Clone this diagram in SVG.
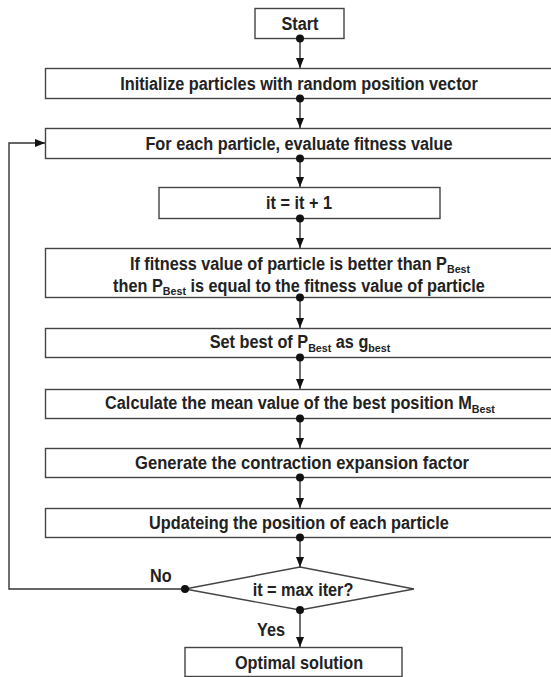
<svg xmlns="http://www.w3.org/2000/svg" width="551" height="677" viewBox="0 0 551 677">
<style>
.box{fill:#fff;stroke:#444;stroke-width:1.4}
.t{font-family:"Liberation Sans",Arial,sans-serif;font-weight:bold;font-size:17.5px;fill:#222;text-anchor:middle}
.lbl{font-family:"Liberation Sans",Arial,sans-serif;font-weight:bold;font-size:17.5px;fill:#222}
.sub{font-size:11.5px}
.ln{fill:none;stroke:#333;stroke-width:1.4}
.dot{fill:#111}
</style>
<defs>
<marker id="arr" markerUnits="userSpaceOnUse" markerWidth="10" markerHeight="10" viewBox="0 0 10 10" refX="10" refY="5" orient="auto">
<path d="M0,1 L10,5 L0,9 Z" fill="#111"/>
</marker>
</defs>
<rect width="551" height="677" fill="#fff"/>
<g id="start"><rect class="box" x="255" y="8.5" width="89" height="30"/><text class="t" transform="translate(300,29.5) scale(0.93,1)">Start</text></g>
<g id="init"><rect class="box" x="45.5" y="68.5" width="520" height="30"/><text class="t" transform="translate(299,89.5) scale(0.93,1)">Initialize particles with random position vector</text></g>
<g id="evaluate"><rect class="box" x="45.5" y="128.5" width="520" height="30"/><text class="t" transform="translate(299,149.5) scale(0.93,1)">For each particle, evaluate fitness value</text></g>
<g id="increment"><rect class="box" x="159" y="187.5" width="281" height="31"/><text class="t" transform="translate(299,209) scale(0.93,1)">it = it + 1</text></g>
<g id="pbest"><rect class="box" x="45.5" y="248.5" width="520" height="49"/>
<text class="t" transform="translate(300,269.5) scale(0.93,1)">If fitness value of particle is better than P<tspan class="sub" dy="3">Best</tspan></text>
<text class="t" transform="translate(299,292) scale(0.93,1)">then P<tspan class="sub" dy="3">Best</tspan><tspan dy="-3"> is equal to the fitness value of particle</tspan></text></g>
<g id="gbest"><rect class="box" x="45.5" y="328.5" width="520" height="29"/><text class="t" transform="translate(300,348) scale(0.93,1)">Set best of P<tspan class="sub" dy="4">Best</tspan><tspan dy="-4"> as g</tspan><tspan class="sub" dy="4">best</tspan></text></g>
<g id="mbest"><rect class="box" x="45.5" y="389.5" width="520" height="29"/><text class="t" transform="translate(300,409) scale(0.93,1)">Calculate the mean value of the best position M<tspan class="sub" dy="4">Best</tspan></text></g>
<g id="factor"><rect class="box" x="45.5" y="448.5" width="520" height="29"/><text class="t" transform="translate(302,469) scale(0.95,1)">Generate the contraction expansion factor</text></g>
<g id="update"><rect class="box" x="45.5" y="508.5" width="520" height="29"/><text class="t" transform="translate(299,529) scale(0.93,1)">Updateing the position of each particle</text></g>
<g id="decision"><polygon class="box" points="185,589 300,567 414,589 300,610"/><text class="t" transform="translate(303,596) scale(0.93,1)">it = max iter?</text></g>
<g id="optimal"><rect class="box" x="185" y="647.5" width="217" height="29"/><text class="t" transform="translate(299,668.5) scale(0.93,1)">Optimal solution</text></g>
<g id="connectors">
<path class="ln" d="M300,38 V68" marker-end="url(#arr)"/>
<path class="ln" d="M300,98 V128" marker-end="url(#arr)"/>
<path class="ln" d="M300,158 V187" marker-end="url(#arr)"/>
<path class="ln" d="M300,218 V248" marker-end="url(#arr)"/>
<path class="ln" d="M300,297 V328" marker-end="url(#arr)"/>
<path class="ln" d="M300,357 V389" marker-end="url(#arr)"/>
<path class="ln" d="M300,418 V448" marker-end="url(#arr)"/>
<path class="ln" d="M300,477 V508" marker-end="url(#arr)"/>
<path class="ln" d="M300,537 V567" marker-end="url(#arr)"/>
<path class="ln" d="M300,610 V647" marker-end="url(#arr)"/>
<path class="ln" d="M185,589 H9 V143 H45" marker-end="url(#arr)"/>
<circle class="dot" cx="300" cy="38.5" r="4"/>
<circle class="dot" cx="300" cy="98.5" r="4"/>
<circle class="dot" cx="300" cy="158.5" r="4"/>
<circle class="dot" cx="300" cy="218.5" r="4"/>
<circle class="dot" cx="300" cy="297.5" r="4"/>
<circle class="dot" cx="300" cy="357.5" r="4"/>
<circle class="dot" cx="300" cy="418.5" r="4"/>
<circle class="dot" cx="300" cy="477.5" r="4"/>
<circle class="dot" cx="300" cy="537.5" r="4"/>
<circle class="dot" cx="300" cy="610" r="4"/>
<circle class="dot" cx="185" cy="589" r="4"/>
<text class="lbl" transform="translate(150,582) scale(0.93,1)">No</text>
<text class="lbl" transform="translate(257,636) scale(0.93,1)">Yes</text>
</g>
</svg>
